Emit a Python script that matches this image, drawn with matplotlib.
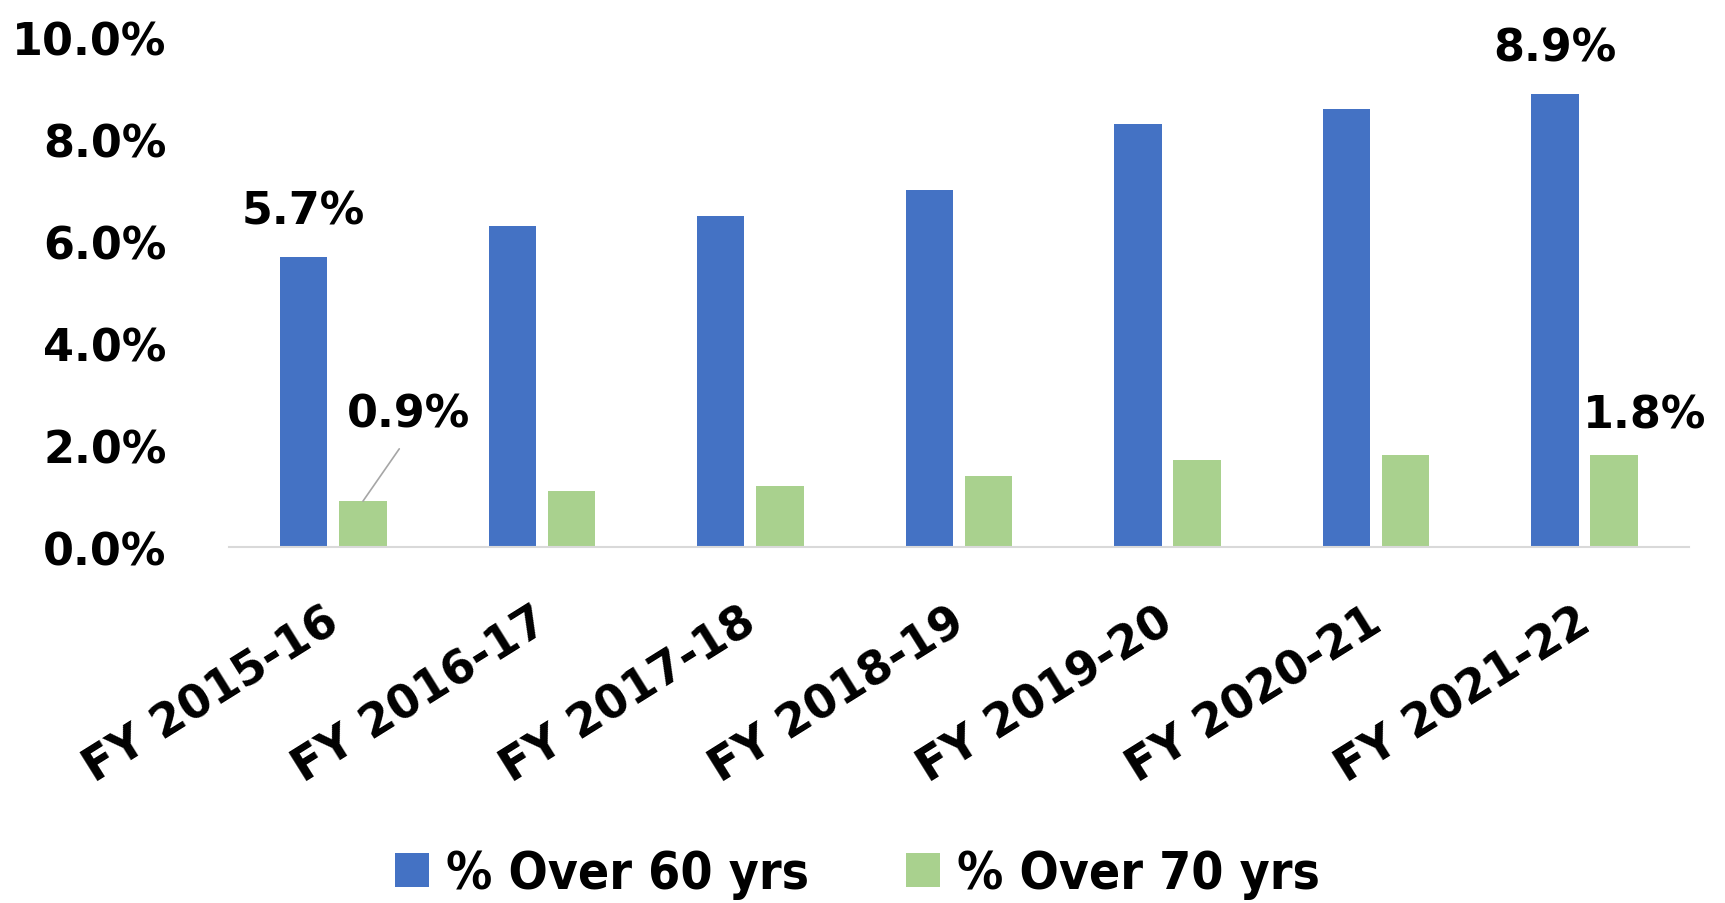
import matplotlib
matplotlib.use("Agg")
import matplotlib.pyplot as plt
import matplotlib.transforms as mtransforms
import numpy as np

years = ["FY 2015-16", "FY 2016-17", "FY 2017-18", "FY 2018-19",
         "FY 2019-20", "FY 2020-21", "FY 2021-22"]
over_60 = [5.7, 6.3, 6.5, 7.0, 8.3, 8.6, 8.9]
over_70 = [0.9, 1.1, 1.2, 1.4, 1.7, 1.8, 1.8]

blue = "#4472C4"
green = "#A9D18E"

plt.rcParams["font.family"] = "DejaVu Sans"
plt.rcParams["font.weight"] = "bold"

fig = plt.figure(figsize=(17.25, 9.04), dpi=100)
ax = fig.add_axes([0.1328, 0.3938, 0.979 - 0.1328, 0.9574 - 0.3938])

x = np.arange(len(years))
w = 0.227
b1 = ax.bar(x - 0.142, over_60, w, color=blue, label="% Over 60 yrs")
b2 = ax.bar(x + 0.142, over_70, w, color=green, label="% Over 70 yrs")

ax.set_xlim(-0.5, len(years) - 0.5)
ax.set_ylim(0, 10)
ax.set_yticks([0, 2, 4, 6, 8, 10])
ax.yaxis.set_major_formatter(plt.FuncFormatter(lambda v, p: f"{v:.1f}%"))
ax.tick_params(axis="y", length=0, pad=45, labelsize=32)
ax.tick_params(axis="x", length=0, pad=51, labelsize=33)

for s in ["top", "right", "left"]:
    ax.spines[s].set_visible(False)
ax.spines["bottom"].set_color("#D9D9D9")
ax.spines["bottom"].set_linewidth(1.5)

ax.set_xticks(x)
ax.set_xticklabels(years, rotation=32, ha="right", va="center",
                   rotation_mode="anchor", fontweight="bold")
offset = mtransforms.ScaledTranslation(0.02, 0, fig.dpi_scale_trans)
for lab in ax.get_xticklabels():
    lab.set_transform(lab.get_transform() + offset)

# data labels
lab_kw = dict(textcoords="offset points", ha="center", va="center",
              fontsize=32, fontweight="bold")
ax.annotate(f"{over_60[0]:.1f}%", (x[0] - 0.142, over_60[0]), xytext=(0, 33), **lab_kw)
ax.annotate(f"{over_60[-1]:.1f}%", (x[-1] - 0.142, over_60[-1]), xytext=(0, 33), **lab_kw)
ax.annotate(f"{over_70[-1]:.1f}%", (x[-1] + 0.142, over_70[-1]), xytext=(22, 29), **lab_kw)
ax.annotate(f"{over_70[0]:.1f}%", (x[0] + 0.142, over_70[0]), xytext=(33, 63),
            arrowprops=dict(arrowstyle="-", color="#A6A6A6", lw=1.2,
                            relpos=(0.5, 0), patchA=None, shrinkA=12, shrinkB=0),
            **lab_kw)

fig.legend(handles=[b1, b2], loc="center", bbox_to_anchor=(0.497, 0.032),
           ncol=2, frameon=False, handlelength=0.65, handleheight=0.65,
           handletextpad=0.33, columnspacing=1.9,
           prop=dict(size=37, weight="bold", stretch="condensed"))

fig.savefig("out.png", dpi=100)
